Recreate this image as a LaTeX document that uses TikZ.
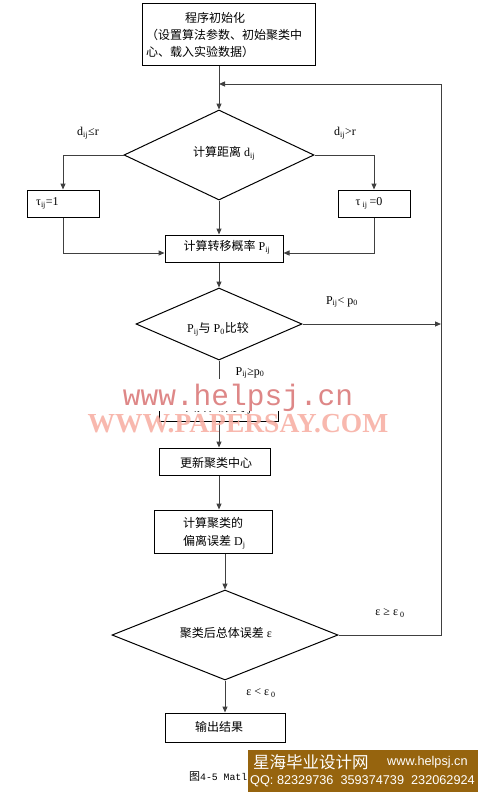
\documentclass[tikz,border=0pt]{standalone}
\usepackage{fontspec}
\setmainfont{Liberation Serif}
\newfontfamily\cjk{Noto Sans CJK SC}
\newfontfamily\wmmono{Liberation Mono}
\newfontfamily\wmsans{Liberation Sans}
\newfontfamily\wmbold{Liberation Serif Bold}
\usetikzlibrary{shapes.geometric,arrows.meta}
\newcommand\zh[1]{{\cjk #1}}
\newcommand\sbs[1]{\textsubscript{#1}}
\definecolor{bannerc}{RGB}{150,100,14}
\definecolor{wmred}{RGB}{222,135,135}
\definecolor{wmpink}{RGB}{247,172,160}
\begin{document}
\begin{tikzpicture}[x=1pt,y=-1pt,
  box/.style={draw=black, line width=1pt, inner sep=0pt},
  dia/.style={draw=black, shape=diamond, line width=1pt, inner sep=0pt},
  conn/.style={draw=black!75, line width=1pt},
  arr/.style={conn, -{Triangle[length=6pt,width=5pt]}},
  lbl/.style={inner sep=0pt, font=\fontsize{12}{14}\selectfont}]
\useasboundingbox (0,0) rectangle (478,792);
\fill[white] (0,0) rectangle (478,792);

% shapes
\node[box, minimum width=173pt, minimum height=62pt] (init) at (228.5,35) {};
\node[dia, minimum width=190pt, minimum height=90pt] (d1) at (219,155) {};
\node[box, minimum width=72pt, minimum height=27pt] (t1) at (63,203.5) {};
\node[box, minimum width=72pt, minimum height=27pt] (t0) at (374,203.5) {};
\node[box, minimum width=118pt, minimum height=27pt] (pb) at (224,248.5) {};
\node[dia, minimum width=166pt, minimum height=72pt] (d2) at (219,324) {};
\node[box, minimum width=119pt, minimum height=27pt] (hb) at (218.5,407.5) {};
\node[box, minimum width=111pt, minimum height=27pt] (upd) at (214.5,461.5) {};
\node[box, minimum width=118pt, minimum height=43pt] (dev) at (213,531.5) {};
\node[dia, minimum width=226pt, minimum height=90pt] (d3) at (225,635) {};
\node[box, minimum width=120pt, minimum height=29pt] (out) at (225,727.5) {};

% texts
\node[lbl, anchor=west, align=left, font=\cjk\fontsize{12}{17}\selectfont] (initT) at (146,35)
  {\hspace*{39pt}程序初始化\\（设置算法参数、初始聚类中\\心、载入实验数据）};
\node[lbl] (d1T) at (224,153) {\zh{计算距离} d\sbs{ij}};
\node[lbl, anchor=west] (t1T) at (36,203) {τ\sbs{ij}=1};
\node[lbl] (t0T) at (369,203) {τ\,\sbs{ij}\,=0};
\node[lbl] (pbT) at (227,247) {\zh{计算转移概率} P\sbs{ij}};
\node[lbl] (d2T) at (218,329) {P\sbs{ij}\zh{与} P\sbs{0}\zh{比较}};
\node[lbl] (hbT) at (218,408) {\zh{归并入聚类} j};
\node[lbl] (updT) at (216,463) {\zh{更新聚类中心}};
\node[lbl, anchor=west, align=left, font=\fontsize{12}{18}\selectfont] (devT) at (183,533)
  {\zh{计算聚类的}\\\zh{偏离误差} D\sbs{j}};
\node[lbl] (d3T) at (226,633) {\zh{聚类后总体误差} ε};
\node[lbl] (outT) at (219,727) {\zh{输出结果}};

% edge labels
\node[lbl] (lA) at (88,133) {d\sbs{ij}≤r};
\node[lbl] (lB) at (345,133) {d\sbs{ij}>r};
\node[lbl] (lC) at (342,302) {P\sbs{ij}< p\sbs{0}};
\node[lbl] (lD) at (250,373) {P\sbs{ij}≥p\sbs{0}};
\node[lbl] (lE) at (390,613) {ε ≥ ε\,\sbs{0}};
\node[lbl] (lF) at (261,693) {ε < ε\,\sbs{0}};

% connectors
\coordinate (join) at (219,84);
\coordinate (fbT) at (441,84);
\coordinate (fbB) at (441,635);
\draw[arr] (d1.north |- init.south) -- (d1.north);
\draw[arr] (d1.west) -- (d1.west -| t1.north) -- (t1.north);
\draw[arr] (d1.east) -- (d1.east -| t0.north) -- (t0.north);
\draw[arr] (d1.south) -- (d1.south |- pb.north);
\draw[arr] (t1.south) -- ([yshift=-4.5pt]t1.south |- pb.west) -- ([yshift=-4.5pt]pb.west);
\draw[arr] (t0.south) -- ([yshift=-4.5pt]t0.south |- pb.east) -- ([yshift=-4.5pt]pb.east);
\draw[arr] (d2.north |- pb.south) -- (d2.north);
\draw[arr] (d2.east) -- (d2.east -| fbT);
\draw[arr] (d2.south) -- (d2.south |- hb.north);
\draw[arr] (d2.south |- hb.south) -- (d2.south |- upd.north);
\draw[arr] (d2.south |- upd.south) -- (d2.south |- dev.north);
\draw[arr] (d3.north |- dev.south) -- (d3.north);
\draw[arr] (d3.east) -- (fbB) -- (fbT) -- (join);
\draw[arr] (d3.south) -- (out.north);

% watermarks
\fill[white] (120,379) rectangle (360,411);
\node[inner sep=0pt, text=wmred] (wm1) at (238,398)
  {\wmmono\fontsize{29.5}{30}\selectfont www.helpsj.cn};
\node[inner sep=0pt, text=wmpink, text opacity=0.85] (wm2) at (238,424)
  {\wmbold\fontsize{27.5}{28}\selectfont WWW.PAPERSAY.COM};

% caption and banner
\node[inner sep=0pt, anchor=west] (cap) at (189,777)
  {{\cjk\fontsize{11}{11}\selectfont 图}{\wmmono\fontsize{9.8}{10}\selectfont 4-5 Matl}};
\fill[bannerc] (248,750) rectangle (478,792);
\node[inner sep=0pt, anchor=west, text=white] (bn1) at (253,762)
  {\cjk\fontsize{16.5}{17}\selectfont 星海毕业设计网};
\node[inner sep=0pt, anchor=west, text=white] (bn2) at (387,762)
  {\wmsans\fontsize{12.7}{13}\selectfont www.helpsj.cn};
\node[inner sep=0pt, anchor=west, text=white] (bn3) at (250,781)
  {\wmsans\fontsize{12.7}{13}\selectfont QQ: 82329736~~359374739~~232062924};
\end{tikzpicture}
\end{document}
